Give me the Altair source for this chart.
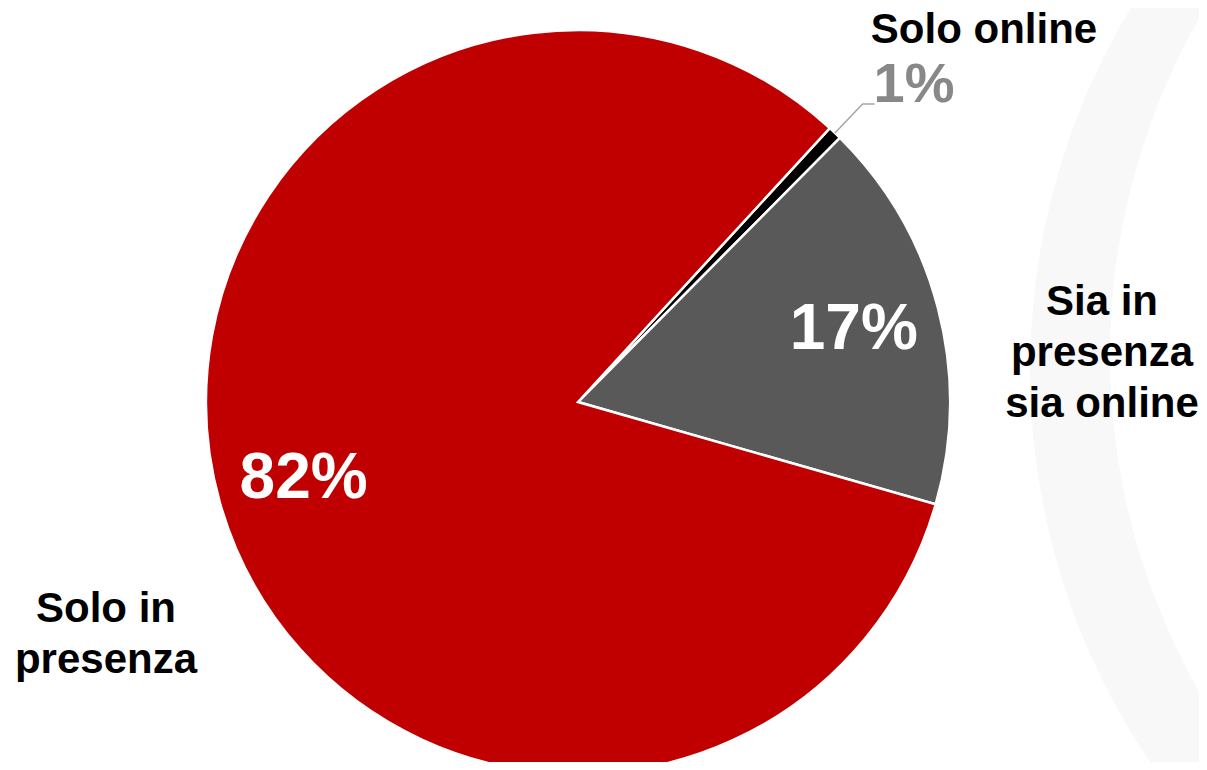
import math
import altair as alt
import pandas as pd

# ---- data ----
categories = ["Solo online", "Sia in presenza sia online", "Solo in presenza"]
values = [0.6, 17.0, 82.4]
inside_labels = ["", "17%", "82%"]
slice_colors = ["#000000", "#595959", "#C00000"]
slice_order = [0, 1, 2]

label_online = ["Solo online"]
label_online_pct = ["1%"]
label_both = ["Sia in", "presenza", "sia online"]
label_presence = ["Solo in", "presenza"]

# ---- layout (view coordinates) ----
W, H = 1191, 754
CX, CY, R = 570, 394, 372
START = math.radians(42.6)
FONT = "Liberation Sans"

df = pd.DataFrame({
    "cat": categories,
    "val": values,
    "ord": slice_order,
    "inlabel": inside_labels,
})

theta_scale = alt.Scale(domain=[0, 100], range=[START, START + 2 * math.pi])

# decorative faint crescent on the right
one = pd.DataFrame({"k": [0]})
ring_outer = alt.Chart(one).mark_arc(
    theta=0, theta2=2 * math.pi, radius=700, color="#f8f8f8"
).encode(x=alt.value(1722), y=alt.value(362))
ring_inner = alt.Chart(one).mark_arc(
    theta=0, theta2=2 * math.pi, radius=680, color="#ffffff"
).encode(x=alt.value(1782), y=alt.value(347))

pie = alt.Chart(df).mark_arc(radius=R, stroke="white", strokeWidth=2.5).encode(
    theta=alt.Theta("val:Q", stack=True, scale=theta_scale),
    color=alt.Color("cat:N", scale=alt.Scale(domain=categories, range=slice_colors), legend=None),
    order=alt.Order("ord:Q"),
    x=alt.value(CX),
    y=alt.value(CY),
)

inside = alt.Chart(df).mark_text(
    radius=285, font=FONT, fontSize=64, fontWeight="bold", color="white",
    align="center", baseline="middle",
).encode(
    theta=alt.Theta("val:Q", stack=True, scale=theta_scale),
    order=alt.Order("ord:Q"),
    detail="cat:N",
    text="inlabel:N",
    x=alt.value(CX),
    y=alt.value(CY),
)

# leader line for the tiny slice, derived from its mid angle
mid = START + 2 * math.pi * (values[0] / 2) / 100
sx, sy = math.sin(mid), -math.cos(mid)
lead = pd.DataFrame({
    "i": [0, 1, 2],
    "px": [CX + R * sx, CX + 412 * sx, CX + 412 * sx + 12],
    "py": [CY + R * sy, CY + 412 * sy, CY + 412 * sy],
})
leader = alt.Chart(lead).mark_line(color="#a6a6a6", strokeWidth=1.5).encode(
    x=alt.X("px:Q", scale=None, axis=None),
    y=alt.Y("py:Q", scale=None, axis=None),
    order="i:Q",
)

def label(text, x, y, size=42, color="black"):
    return alt.Chart(one).mark_text(
        text=text, font=FONT, fontSize=size, fontWeight="bold", color=color,
        align="center", baseline="alphabetic", lineHeight=51,
    ).encode(x=alt.value(x), y=alt.value(y))

t_online = label(label_online, 976, 35)
t_online_pct = label(label_online_pct, 906, 94, size=56, color="#888888")
t_both = label(label_both, 1094, 307)
t_presence = label(label_presence, 98, 614)

chart = alt.layer(
    ring_outer, ring_inner, pie, inside, leader,
    t_online, t_online_pct, t_both, t_presence,
).properties(
    width=W, height=H,
    autosize=alt.AutoSizeParams(type="none"),
    padding=0,
    background="white",
).configure_view(stroke=None)

chart.save("out.html", embed_options={"renderer": "svg", "actions": False})
